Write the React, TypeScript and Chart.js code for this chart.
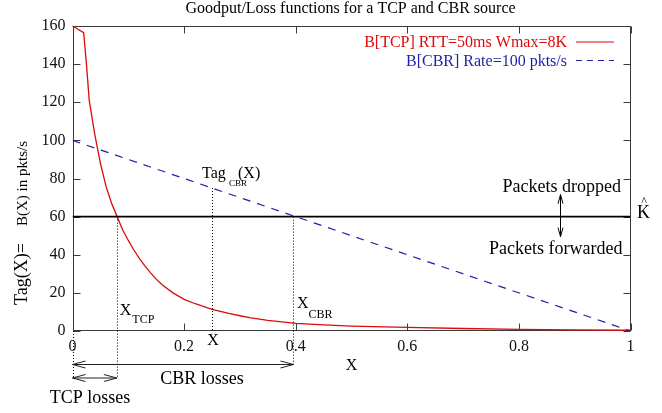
import React, { useEffect, useRef } from "react";
import { Chart, registerables } from "chart.js";

Chart.register(...registerables);

const chartTitle = "Goodput/Loss functions for a TCP and CBR source";

const xTickValues = [0, 0.2, 0.4, 0.6, 0.8, 1];
const xTickLabels = ["0", "0.2", "0.4", "0.6", "0.8", "1"];
const yTickValues = [0, 20, 40, 60, 80, 100, 120, 140, 160];
const yTickLabels = ["0", "20", "40", "60", "80", "100", "120", "140", "160"];

// TCP goodput B[TCP](X) against loss rate X
const tcpLabel = "B[TCP] RTT=50ms Wmax=8K";
const tcpLoss = [
  0, 0.02, 0.025, 0.03, 0.04, 0.05, 0.06, 0.07, 0.08, 0.09, 0.1, 0.11, 0.12,
  0.13, 0.14, 0.15, 0.16, 0.18, 0.2, 0.22, 0.25, 0.28, 0.3, 0.32, 0.35, 0.4,
  0.45, 0.5, 0.6, 0.7, 0.8, 0.9, 1,
];
const tcpRate = [
  160, 156.5, 140, 121, 103, 88, 76, 67, 60, 53, 47.5, 42.5, 38, 34, 30.5,
  27.2, 24.4, 20, 16.6, 14.3, 11.4, 9.2, 8.0, 6.9, 5.6, 4.0, 3.2, 2.6, 1.9,
  1.3, 0.9, 0.6, 0.4,
];

// CBR goodput B[CBR](X)
const cbrLabel = "B[CBR] Rate=100 pkts/s";
const cbrLoss = [0, 1];
const cbrRate = [100, 0];

// Threshold K^ and the marked loss rates
const kHat = 60;
const kLoss = [0, 1];
const xTcp = 0.0795;
const xCbr = 0.396;
const xSample = 0.25;
const tagSample = 75;

const RED = "#dc0a0a";
const BLUE = "#1e1eaa";
const SERIF = '"Liberation Serif", "Times New Roman", serif';
const f = (px: number) => `${px}px ${SERIF}`;

function arrowHead(ctx: CanvasRenderingContext2D, tx: number, ty: number, dx: number, dy: number, len: number, half: number) {
  // open "V" head pointing in direction (dx, dy) with its tip at (tx, ty)
  const px = -dy, py = dx;
  ctx.beginPath();
  ctx.moveTo(tx - dx * len + px * half, ty - dy * len + py * half);
  ctx.lineTo(tx, ty);
  ctx.lineTo(tx - dx * len - px * half, ty - dy * len - py * half);
  ctx.stroke();
}

function doubleArrowH(ctx: CanvasRenderingContext2D, x1: number, x2: number, y: number) {
  ctx.beginPath();
  ctx.moveTo(x1, y);
  ctx.lineTo(x2, y);
  ctx.stroke();
  arrowHead(ctx, x1, y, -1, 0, 13, 3.5);
  arrowHead(ctx, x2, y, 1, 0, 13, 3.5);
}

function doubleArrowV(ctx: CanvasRenderingContext2D, x: number, y1: number, y2: number) {
  ctx.beginPath();
  ctx.moveTo(x, y1);
  ctx.lineTo(x, y2);
  ctx.stroke();
  arrowHead(ctx, x, y1, 0, -1, 9, 2.5);
  arrowHead(ctx, x, y2, 0, 1, 9, 2.5);
}

function dotted(ctx: CanvasRenderingContext2D, x: number, y1: number, y2: number) {
  const px = Math.round(x) + 0.5;
  ctx.save();
  ctx.setLineDash([1, 2]);
  ctx.beginPath();
  ctx.moveTo(px, y1);
  ctx.lineTo(px, y2);
  ctx.stroke();
  ctx.restore();
}

function text(ctx: CanvasRenderingContext2D, s: string, x: number, y: number, size: number, align: CanvasTextAlign = "left", color = "#000") {
  ctx.font = f(size);
  ctx.fillStyle = color;
  ctx.textAlign = align;
  ctx.textBaseline = "alphabetic";
  ctx.fillText(s, x, y);
}

const framePlugin = {
  id: "frame",
  beforeDatasetsDraw(chart: any) {
    const { ctx, chartArea: a, scales } = chart;
    const L = Math.round(a.left) + 0.5;
    const R = Math.round(a.right) - 0.5;
    const T = Math.round(a.top) + 0.5;
    const B = Math.round(a.bottom) - 0.5;
    ctx.save();
    ctx.strokeStyle = "#3a3a3a";
    ctx.lineWidth = 1;
    ctx.strokeRect(L, T, R - L, B - T);
    // inward tick marks on all four sides
    const tl = 7;
    ctx.beginPath();
    for (const v of yTickValues) {
      const y = Math.round(scales.y.getPixelForValue(v)) + 0.5;
      ctx.moveTo(L, y); ctx.lineTo(L + tl, y);
      ctx.moveTo(R, y); ctx.lineTo(R - tl, y);
    }
    for (const v of xTickValues) {
      const x = Math.round(scales.x.getPixelForValue(v)) + 0.5;
      ctx.moveTo(x, B); ctx.lineTo(x, B - tl);
      ctx.moveTo(x, T); ctx.lineTo(x, T + tl);
    }
    ctx.stroke();
    ctx.restore();
  },
  afterDraw(chart: any) {
    const { ctx, chartArea: a, scales } = chart;
    const X = (v: number) => scales.x.getPixelForValue(v);
    const Y = (v: number) => scales.y.getPixelForValue(v);
    const cx = (a.left + a.right) / 2;
    ctx.save();

    // title
    text(ctx, chartTitle, cx - 1, a.top - 13, 16, "center");

    // legend
    const legX = a.right - 63.5;
    text(ctx, tcpLabel, legX, a.top + 21, 16, "right", RED);
    text(ctx, cbrLabel, legX, a.top + 40, 16, "right", BLUE);
    ctx.lineWidth = 1.2;
    ctx.strokeStyle = RED;
    ctx.beginPath();
    ctx.moveTo(legX + 9, a.top + 16); ctx.lineTo(legX + 47, a.top + 16);
    ctx.stroke();
    ctx.strokeStyle = BLUE;
    ctx.setLineDash([6, 5]);
    ctx.beginPath();
    ctx.moveTo(legX + 9, a.top + 34.5); ctx.lineTo(legX + 47, a.top + 34.5);
    ctx.stroke();
    ctx.setLineDash([]);

    // y-axis title, rotated
    ctx.save();
    ctx.translate(27, 305);
    ctx.rotate(-Math.PI / 2);
    text(ctx, "Tag(X)=", 0, 0, 18);
    ctx.restore();
    ctx.save();
    ctx.translate(27, 141);
    ctx.rotate(-Math.PI / 2);
    text(ctx, "B(X) in pkts/s", 0, 0, 15, "right");
    ctx.restore();

    // x-axis title
    text(ctx, "X", cx, a.bottom + 39, 16, "center");

    // dotted markers
    ctx.strokeStyle = "#000";
    ctx.lineWidth = 1;
    const arrTcpY = a.bottom + 47;
    const arrCbrY = a.bottom + 33.5;
    dotted(ctx, X(0), a.bottom, arrTcpY);
    dotted(ctx, X(xTcp), Y(kHat), arrTcpY);
    dotted(ctx, X(xSample), Y(tagSample), a.bottom);
    dotted(ctx, X(xCbr), Y(kHat), arrCbrY);

    // loss ranges
    ctx.strokeStyle = "#222";
    doubleArrowH(ctx, X(0), X(xCbr), arrCbrY);
    doubleArrowH(ctx, X(0), X(xTcp), arrTcpY);
    text(ctx, "CBR losses", X(0) + 129.5, a.bottom + 52.5, 18, "center");
    text(ctx, "TCP losses", X(0) + 17.5, a.bottom + 71.5, 18, "center");

    // point labels
    const xs = X(xSample);
    text(ctx, "Tag", xs - 10, Y(tagSample) - 10, 16);
    text(ctx, "CBR", xs + 17, Y(tagSample) - 2, 9);
    text(ctx, "(X)", xs + 26, Y(tagSample) - 10, 16);
    text(ctx, "X", xs + 1, a.bottom + 14, 16, "center");

    const xt = X(xTcp);
    text(ctx, "X", xt + 3, a.bottom - 16, 16);
    text(ctx, "TCP", xt + 15.5, a.bottom - 8, 12);
    const xc = X(xCbr);
    text(ctx, "X", xc + 3.5, a.bottom - 23, 16);
    text(ctx, "CBR", xc + 15, a.bottom - 13, 12);

    // drop / forward regions around K^
    const yk = Y(kHat);
    text(ctx, "Packets dropped", a.right - 9.5, yk - 25, 18, "right");
    text(ctx, "Packets forwarded", a.right - 8, yk + 37, 18, "right");
    ctx.strokeStyle = "#000";
    doubleArrowV(ctx, Math.round(a.right - 71) + 0.5, yk - 22, yk + 20);
    text(ctx, "K", a.right + 6.5, yk + 1.5, 18);
    text(ctx, "^", a.right + 13.5, yk - 11.5, 12, "center");

    ctx.restore();
  },
};

export default function App() {
  const canvasRef = useRef<HTMLCanvasElement | null>(null);

  useEffect(() => {
    const canvas = canvasRef.current;
    if (!canvas) return;
    const tickFont = { family: SERIF, size: 16 };
    const chart = new Chart(canvas, {
      type: "line",
      data: {
        datasets: [
          {
            label: "K^",
            data: kLoss.map((x) => ({ x, y: kHat })),
            borderColor: "#000",
            borderWidth: 1.7,
            pointRadius: 0,
          },
          {
            label: cbrLabel,
            data: cbrLoss.map((x, i) => ({ x, y: cbrRate[i] })),
            borderColor: BLUE,
            borderWidth: 1.2,
            borderDash: [8, 7],
            pointRadius: 0,
          },
          {
            label: tcpLabel,
            data: tcpLoss.map((x, i) => ({ x, y: tcpRate[i] })),
            borderColor: RED,
            borderWidth: 1.3,
            pointRadius: 0,
            tension: 0,
            clip: false,
          },
        ],
      },
      options: {
        responsive: false,
        animation: false,
        devicePixelRatio: 1,
        layout: { padding: { left: 0, top: 26, right: 31.5, bottom: 0 } },
        plugins: {
          legend: { display: false },
          title: { display: false },
          tooltip: { enabled: false },
        },
        scales: {
          x: {
            type: "linear",
            min: 0,
            max: 1,
            afterBuildTicks: (s: any) => {
              s.ticks = xTickValues.map((value) => ({ value }));
            },
            afterFit: (s: any) => {
              s.height = 82;
            },
            grid: { display: false, drawTicks: false },
            border: { display: false },
            ticks: {
              font: tickFont,
              color: "#111",
              padding: 6,
              maxRotation: 0,
              autoSkip: false,
              callback: (_v: any, i: number) => xTickLabels[i],
            },
          },
          y: {
            type: "linear",
            min: 0,
            max: 160,
            afterBuildTicks: (s: any) => {
              s.ticks = yTickValues.map((value) => ({ value }));
            },
            afterFit: (s: any) => {
              s.width = 72.5;
            },
            grid: { display: false, drawTicks: false },
            border: { display: false },
            ticks: {
              font: tickFont,
              color: "#111",
              padding: 7,
              autoSkip: false,
              callback: (_v: any, i: number) => yTickLabels[i],
            },
          },
        },
      },
      plugins: [framePlugin],
    } as any);
    return () => chart.destroy();
  }, []);

  return (
    <div style={{ position: "absolute", left: 0, top: 0, width: 662, height: 413, background: "#fff" }}>
      <canvas ref={canvasRef} width={662} height={413} style={{ display: "block" }} />
    </div>
  );
}
